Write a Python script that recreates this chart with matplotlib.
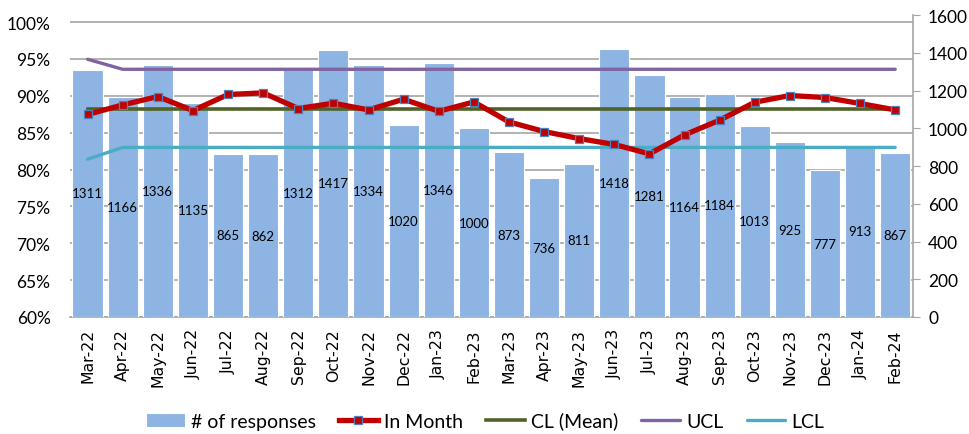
import matplotlib.pyplot as plt
from matplotlib.ticker import FuncFormatter

months = ['Mar-22', 'Apr-22', 'May-22', 'Jun-22', 'Jul-22', 'Aug-22', 'Sep-22', 'Oct-22',
          'Nov-22', 'Dec-22', 'Jan-23', 'Feb-23', 'Mar-23', 'Apr-23', 'May-23', 'Jun-23',
          'Jul-23', 'Aug-23', 'Sep-23', 'Oct-23', 'Nov-23', 'Dec-23', 'Jan-24', 'Feb-24']
responses = [1311, 1166, 1336, 1135, 865, 862, 1312, 1417, 1334, 1020, 1346, 1000,
             873, 736, 811, 1418, 1281, 1164, 1184, 1013, 925, 777, 913, 867]
in_month = [0.8747, 0.8877, 0.8990, 0.8800, 0.9018, 0.9040, 0.8828, 0.8900,
            0.8809, 0.8954, 0.8790, 0.8917, 0.8646, 0.8516, 0.8420, 0.8340,
            0.8213, 0.8470, 0.8670, 0.8913, 0.9004, 0.8977, 0.8896, 0.8809]
cl = [0.8828] * 24
ucl = [0.9496] + [0.9360] * 23
lcl = [0.8140] + [0.8300] * 23

calibri = ['Lato', 'DejaVu Sans']
x = list(range(len(months)))

fig = plt.figure(figsize=(9.7, 4.35), dpi=100)
ax = fig.add_axes([0.0722, 0.269, 0.8688, 0.694])
ax_bar = ax.twinx()
ax_line = ax.twinx()

# base axis: percent scale and gridlines
ax.set_ylim(0.6, 1.0095)
ax.set_yticks([0.6, 0.65, 0.7, 0.75, 0.8, 0.85, 0.9, 0.95, 1.0])
ax.yaxis.set_major_formatter(FuncFormatter(lambda v, p: f'{v * 100:.0f}%'))
ax.grid(axis='y', color='#a6a6a6', linewidth=1.2)
ax.set_axisbelow(True)
ax.tick_params(axis='y', length=0, pad=14, labelsize=12.5)
for lab in ax.get_yticklabels():
    lab.set_family(calibri)
ax.set_xlim(-0.5, len(months) - 0.5)
ax.set_xticks(x)
ax.set_xticklabels(months, rotation=90, fontsize=11.3, family='DejaVu Sans')
ax.tick_params(axis='x', length=0, pad=8)
for s in ['top', 'left', 'right']:
    ax.spines[s].set_visible(False)
ax.spines['bottom'].set_color('#a6a6a6')
ax.spines['bottom'].set_linewidth(1.2)

# bars on right scale
bars = ax_bar.bar(x, responses, width=0.86, color='#8db4e2', edgecolor='white',
                  linewidth=0.8, label='# of responses')
ax_bar.bar_label(bars, label_type='center', fontsize=9.5, family=calibri)
ax_bar.set_ylim(0, 1600)
ax_bar.set_yticks(range(0, 1601, 200))
ax_bar.tick_params(axis='y', direction='out', length=5, color='#a6a6a6', labelsize=12.5, pad=6)
for lab in ax_bar.get_yticklabels():
    lab.set_family(calibri)
for s in ['top', 'left', 'bottom']:
    ax_bar.spines[s].set_visible(False)
ax_bar.spines['right'].set_color('#a6a6a6')
ax_bar.spines['right'].set_linewidth(1.2)

# lines on percent scale
ax_line.set_ylim(ax.get_ylim())
ax_line.axis('off')
ax_line.plot(x, ucl, color='#8064a2', linewidth=2.4, solid_capstyle='round', label='UCL')
ax_line.plot(x, lcl, color='#4bacc6', linewidth=2.4, solid_capstyle='round', label='LCL')
ax_line.plot(x, cl, color='#4f6228', linewidth=2.6, label='CL (Mean)')
ax_line.plot(x, in_month, color='#c00000', linewidth=3.8, marker='s', markersize=6,
             markerfacecolor='#c00000', markeredgecolor='#4f81bd', markeredgewidth=0.9,
             label='In Month')

h, l = ax_line.get_legend_handles_labels()
order = [3, 2, 0, 1]
handles = [bars] + [h[i] for i in order]
labels = ['# of responses'] + [l[i] for i in order]
fig.legend(handles, labels, loc='lower center', bbox_to_anchor=(0.5, -0.03), ncol=5,
           frameon=False, prop={'family': calibri, 'size': 14}, handlelength=2.0,
           handletextpad=0.3, columnspacing=1.2)

fig.savefig('out.png', dpi=100)
